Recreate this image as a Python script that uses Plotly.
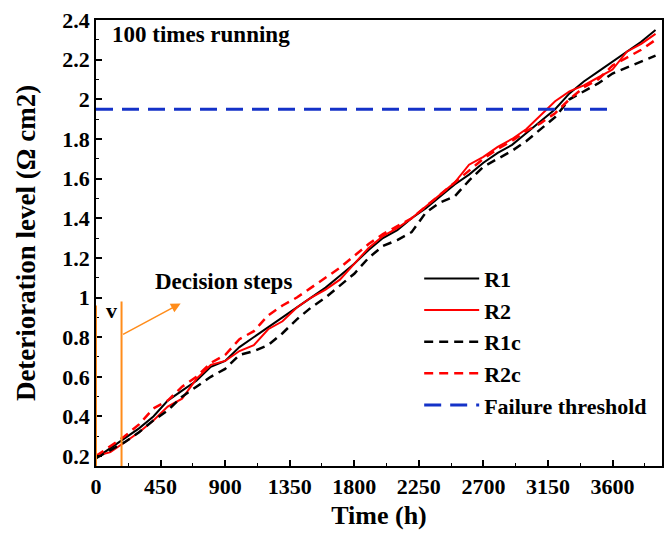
import plotly.graph_objects as go

time_h = [0, 100, 200, 300, 400, 500, 600, 700, 800, 900, 1000, 1100, 1200, 1300,
          1400, 1500, 1600, 1700, 1800, 1900, 2000, 2100, 2200, 2300, 2400, 2500,
          2600, 2700, 2800, 2900, 3000, 3100, 3200, 3300, 3400, 3500, 3600, 3700,
          3800, 3900]

r1 = [0.19, 0.24, 0.29, 0.34, 0.40, 0.48, 0.53, 0.58, 0.65, 0.68, 0.75, 0.80, 0.85, 0.90,
      0.95, 1.00, 1.05, 1.11, 1.17, 1.24, 1.30, 1.34, 1.40, 1.45, 1.51, 1.57,
      1.62, 1.68, 1.73, 1.77, 1.83, 1.89, 1.95, 2.03, 2.09, 2.14, 2.19, 2.24,
      2.29, 2.35]
r2 = [0.20, 0.22, 0.27, 0.32, 0.38, 0.45, 0.49, 0.59, 0.66, 0.68, 0.73, 0.76, 0.84, 0.88,
      0.95, 1.00, 1.04, 1.09, 1.17, 1.25, 1.31, 1.35, 1.40, 1.46, 1.52, 1.58,
      1.67, 1.71, 1.76, 1.80, 1.85, 1.92, 1.99, 2.04, 2.07, 2.11, 2.15, 2.24,
      2.28, 2.33]
r1c = [0.19, 0.23, 0.27, 0.32, 0.38, 0.43, 0.50, 0.55, 0.60, 0.64, 0.71, 0.73, 0.76, 0.82,
       0.89, 0.95, 1.00, 1.06, 1.12, 1.20, 1.26, 1.29, 1.33, 1.43, 1.48, 1.51,
       1.59, 1.66, 1.70, 1.74, 1.79, 1.85, 1.91, 2.00, 2.04, 2.08, 2.13, 2.16,
       2.19, 2.22]
r2c = [0.20, 0.25, 0.30, 0.36, 0.44, 0.48, 0.55, 0.60, 0.67, 0.71, 0.79, 0.83, 0.91, 0.96,
       1.00, 1.05, 1.10, 1.15, 1.21, 1.27, 1.32, 1.36, 1.40, 1.46, 1.52, 1.58,
       1.64, 1.70, 1.75, 1.79, 1.84, 1.88, 1.93, 2.00, 2.06, 2.10, 2.17, 2.21,
       2.25, 2.30]

threshold_x = [0, 3570]
threshold_value = 1.95

decision_x = [0, 178]
decision_top = [0.96, 0.98]
arrow_start = (178, 0.81)
arrow_end = (590, 0.97)

x_ticks = [0, 450, 900, 1350, 1800, 2250, 2700, 3150, 3600]
y_ticks = [0.2, 0.4, 0.6, 0.8, 1.0, 1.2, 1.4, 1.6, 1.8, 2.0, 2.2, 2.4]

FONT = "Liberation Serif"
ORANGE = "#FF8C1A"

fig = go.Figure()
fig.add_trace(go.Scatter(x=time_h, y=r1, mode="lines", name="<b>R1</b>",
                         line=dict(color="black", width=2)))
fig.add_trace(go.Scatter(x=time_h, y=r2, mode="lines", name="<b>R2</b>",
                         line=dict(color="#FF0000", width=2)))
fig.add_trace(go.Scatter(x=time_h, y=r1c, mode="lines", name="<b>R1c</b>",
                         line=dict(color="black", width=2.5, dash="9px,6px")))
fig.add_trace(go.Scatter(x=time_h, y=r2c, mode="lines", name="<b>R2c</b>",
                         line=dict(color="#FF0000", width=2.5, dash="9px,6px")))
fig.add_trace(go.Scatter(x=threshold_x, y=[threshold_value] * len(threshold_x), mode="lines",
                         name="<b>Failure threshold</b>",
                         line=dict(color="#1432C8", width=3, dash="17px,9px")))

for xv, top in zip(decision_x, decision_top):
    fig.add_shape(type="line", xref="x", yref="y", x0=xv, x1=xv, y0=0.15, y1=top,
                  line=dict(color=ORANGE, width=2))

fig.add_annotation(x=arrow_end[0], y=arrow_end[1], ax=arrow_start[0], ay=arrow_start[1],
                   xref="x", yref="y", axref="x", ayref="y", text="",
                   showarrow=True, arrowhead=2, arrowsize=1.3, arrowwidth=1.5,
                   arrowcolor=ORANGE)
fig.add_annotation(x=400, y=1.08, xref="x", yref="y", text="<b>Decision steps</b>",
                   showarrow=False, xanchor="left",
                   font=dict(family=FONT, size=23, color="black"))
fig.add_annotation(x=55, y=0.935, xref="x", yref="y", text="<b>v</b>",
                   showarrow=False, xanchor="left",
                   font=dict(family=FONT, size=22, color="black"))
fig.add_annotation(x=95, y=2.325, xref="x", yref="y", text="<b>100 times running</b>",
                   showarrow=False, xanchor="left",
                   font=dict(family=FONT, size=23, color="black"))

axis_common = dict(showline=True, linecolor="black", linewidth=1.5, mirror=True,
                   ticks="inside", ticklen=6, tickwidth=1.5, tickcolor="black",
                   showgrid=False, zeroline=False, automargin=False,
                   ticklabeloverflow="allow",
                   tickfont=dict(family=FONT, size=22, color="black"))

fig.update_xaxes(range=[0, 3945], tickvals=x_ticks,
                 ticktext=[f"<b>{v}</b>" for v in x_ticks],
                 minor=dict(ticks="inside", ticklen=3, tickwidth=1.2, tickcolor="black",
                            dtick=225, tick0=0),
                 title=dict(text="<b>Time (h)</b>", font=dict(family=FONT, size=26, color="black"),
                            standoff=8),
                 **axis_common)
fig.update_yaxes(range=[0.15, 2.4001], tickvals=y_ticks,
                 ticktext=[f"<b>{v:g}</b>" for v in y_ticks],
                 minor=dict(ticks="inside", ticklen=3, tickwidth=1.2, tickcolor="black",
                            dtick=0.1, tick0=0.2),
                 title=dict(text="<b>Deterioration level (Ω cm2)</b>",
                            font=dict(family=FONT, size=27, color="black"), standoff=19),
                 **axis_common)

# the page body adds an 8px offset, so the figure is sized to fit the window
fig.update_layout(
    width=664, height=534,
    margin=dict(l=88, r=10, t=12, b=76),
    paper_bgcolor="white", plot_bgcolor="white",
    font=dict(family=FONT, color="black"),
    legend=dict(x=0.571, y=0.467, xanchor="left", yanchor="top",
                bgcolor="rgba(0,0,0,0)", borderwidth=0,
                font=dict(family=FONT, size=22, color="black"),
                itemwidth=55, tracegroupgap=0),
    showlegend=True,
)

fig.write_html("out.html")
